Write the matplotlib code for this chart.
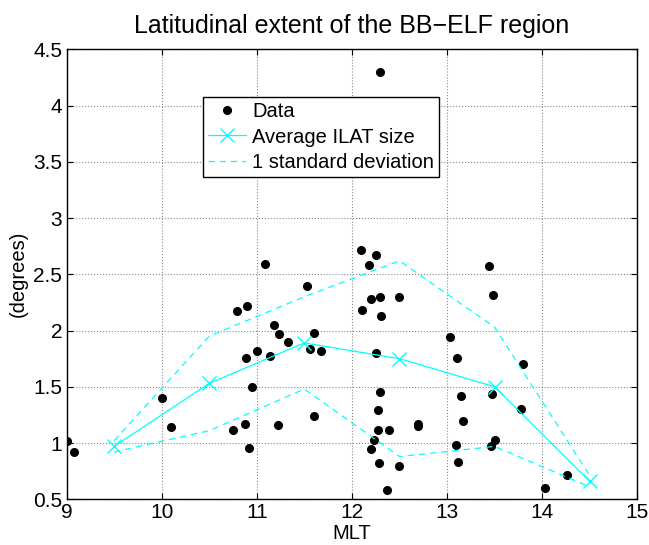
import matplotlib
matplotlib.use("Agg")
import matplotlib.pyplot as plt
import numpy as np

plt.rcParams['font.family'] = ['Liberation Sans', 'DejaVu Sans']

# scattered measurements (MLT, latitudinal extent in degrees)
mlt = [9.00, 9.08, 10.00, 10.10, 10.75, 10.88, 10.92, 10.79, 10.90, 11.09,
       11.18, 11.23, 11.33, 10.89, 11.00, 11.14, 10.95, 11.22, 11.53, 11.60,
       11.56, 11.68, 11.60,
       12.10, 12.25, 12.18, 12.20, 12.30, 12.49, 12.11, 12.31, 12.25, 12.30,
       12.27, 12.27, 12.39, 12.23, 12.20, 12.28, 12.50, 12.37, 12.70, 12.70,
       12.30, 13.03, 13.10, 13.15, 13.17, 13.09, 13.12, 13.44, 13.48, 13.47,
       13.50, 13.46, 13.80, 13.78, 14.26, 14.03]
extent = [1.02, 0.92, 1.40, 1.14, 1.12, 1.17, 0.96, 2.17, 2.22, 2.59,
          2.05, 1.97, 1.90, 1.76, 1.82, 1.77, 1.50, 1.16, 2.40, 1.98,
          1.84, 1.82, 1.24,
          2.72, 2.67, 2.58, 2.28, 2.30, 2.30, 2.18, 2.13, 1.80, 1.45,
          1.29, 1.12, 1.12, 1.03, 0.95, 0.82, 0.80, 0.58, 1.17, 1.15,
          4.30, 1.94, 1.76, 1.42, 1.20, 0.98, 0.83, 2.57, 2.32, 1.44,
          1.03, 0.97, 1.70, 1.30, 0.72, 0.60]

# hourly bins
bin_mlt = [9.5, 10.5, 11.5, 12.5, 13.5, 14.5]
avg_size = [0.97, 1.53, 1.89, 1.75, 1.50, 0.66]
std_size = [0.05, 0.42, 0.41, 0.87, 0.53, 0.05]

avg = np.array(avg_size)
std = np.array(std_size)

fig = plt.figure(figsize=(6.49, 5.45), dpi=100)
ax = fig.add_axes([66.5 / 649, 1 - 499.3 / 545, 570.8 / 649, 450 / 545])

ax.plot(mlt, extent, 'o', color='k', markersize=5.5, label='Data')
ax.plot(bin_mlt, avg, '-', color='cyan', marker='x', markersize=10,
        linewidth=0.9, label='Average ILAT size')
ax.plot(bin_mlt, avg + std, '--', color='cyan', linewidth=0.9,
        dashes=(5, 4), label='1 standard deviation')
ax.plot(bin_mlt, avg - std, '--', color='cyan', linewidth=0.9, dashes=(5, 4))

ax.set_xlim(9, 15)
ax.set_ylim(0.5, 4.5)
ax.set_xticks(np.arange(9, 16, 1))
ax.set_yticks(np.arange(0.5, 4.51, 0.5))
ax.set_yticklabels(['0.5', '1', '1.5', '2', '2.5', '3', '3.5', '4', '4.5'])
ax.tick_params(direction='in', top=True, right=True, labelsize=15, length=4,
               pad=3)
ax.grid(True, linestyle=':', color='#888888', linewidth=0.8)
for s in ax.spines.values():
    s.set_linewidth(1.0)

ax.set_title('Latitudinal extent of the BB\u2212ELF region', fontsize=18, pad=12)
ax.set_xlabel('MLT', fontsize=14.5, labelpad=1)
ax.set_ylabel('(degrees)', fontsize=14.5, labelpad=4)

leg = ax.legend(loc='upper left', bbox_to_anchor=(0.239, 0.893), fontsize=14.5,
                fancybox=False, framealpha=1, edgecolor='k', borderpad=0.25,
                labelspacing=0.3, handlelength=1.9, handletextpad=0.3,
                borderaxespad=0)
leg.get_frame().set_linewidth(1.0)

fig.savefig('out.png', dpi=100)
